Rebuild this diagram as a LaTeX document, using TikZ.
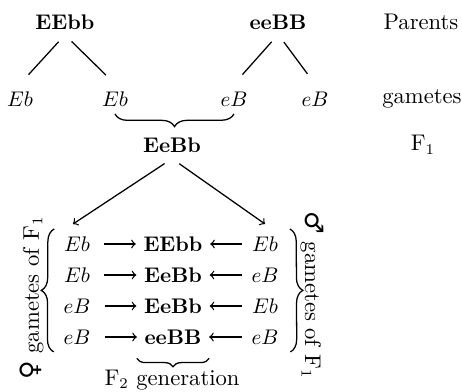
\documentclass[tikz,border=0pt]{standalone}
\usepackage{fontspec}
\usepackage{amsmath}
\usetikzlibrary{arrows,decorations.pathreplacing}
\newfontfamily\symfont{DejaVu Sans}

\begin{document}
\begin{tikzpicture}[x=0.01662cm,y=-0.01662cm,semithick]
   \tikzset{geno/.style={font=\bfseries},
            lbl/.style={font=\fontsize{10.7}{13}\selectfont},
            brc/.style={decorate,decoration={brace,amplitude=6pt}}}
   \useasboundingbox (0,0) rectangle (462,391);
   % parents and their gametes
   \node[geno] (p1) at (65,22) {EEbb};
   \node[geno] (p2) at (278,22) {eeBB};
   \node[lbl] (lpar) at (421,22) {Parents};
   \node (g1) at (20,99) {$Eb$};
   \node (g2) at (115,99) {$Eb$};
   \node (g3) at (234,99) {$eB$};
   \node (g4) at (315,99) {$eB$};
   \node[lbl] (lgam) at (422,99) {gametes};
   \draw[shorten <=3pt, shorten >=6pt] ([xshift=-1pt]p1.south) -- (g1.north);
   \draw[shorten <=3pt, shorten >=6pt] ([xshift=1pt]p1.south) -- (g2.north);
   \draw[shorten <=3pt, shorten >=6pt] ([xshift=-1pt]p2.south) -- (g3.north);
   \draw[shorten <=3pt, shorten >=6pt] ([xshift=1pt]p2.south) -- (g4.north);
   \draw[brc] (g3.south) -- (g2.south);
   \node[geno] (f1) at (172,145) {EeBb};
   \node[lbl] (lf1) at (423,145) {F$_1$};
   % F1 gametes crossed
   \coordinate (a1) at (73,224);
   \coordinate (a2) at (265,224);
   \draw[->, shorten <=3pt] ([xshift=-1pt]f1.south) -- (a1);
   \draw[->, shorten <=3pt] ([xshift=1pt]f1.south) -- (a2);
   \foreach \a/\m/\b [count=\i] in {Eb/EEbb/Eb, Eb/EeBb/eB, eB/EeBb/Eb, eB/eeBB/eB} {
      \node (l\i) at (77,213+31*\i) {$\a$};
      \node[geno] (m\i) at (173,213+31*\i) {\m};
      \node (r\i) at (265,213+31*\i) {$\b$};
      \draw[->, shorten <=3pt] (l\i) -- (m\i);
      \draw[<-, shorten >=1pt] (m\i) -- (r\i);
   }
   \draw[brc] ([xshift=-1pt]l4.south west) -- ([xshift=-1pt]l1.north west);
   \draw[brc] ([xshift=2pt]r1.north east) -- ([xshift=2pt]r4.south east);
   \draw[brc,decoration={amplitude=4pt}] ([yshift=-3pt]m4.south east) -- ([yshift=-3pt]m4.south west);
   \node[lbl,rotate=90] (lfem) at (32,298) {{\symfont\large ♀} gametes of F$_1$};
   \node[lbl,rotate=-90] (lmal) at (312,295) {{\symfont\large ♂} gametes of F$_1$};
   \node[lbl] (lf2) at (172,380) {F$_2$ generation};
\end{tikzpicture}
\end{document}
